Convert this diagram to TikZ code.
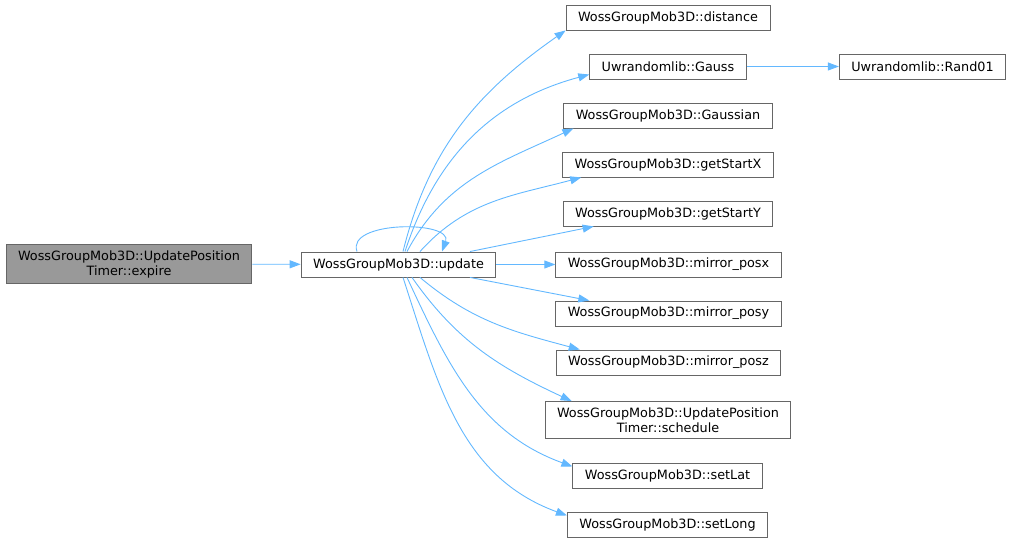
\documentclass[tikz,border=0pt]{standalone}
\usepackage{fontspec}
\setmainfont{DejaVu Sans}
\usepackage{xcolor}
\usetikzlibrary{arrows.meta, positioning}

\definecolor{edgeblue}{HTML}{63B8FF}
\definecolor{boxgray}{HTML}{666666}
\definecolor{rootgray}{HTML}{999999}

\begin{document}
\begin{tikzpicture}[
		x=1pt, y=1pt,
		% Define styles
		fn/.style={
			rectangle,
			draw=boxgray,
			line width=0.9pt,
			fill=white,
			font=\fontsize{12.8}{15}\selectfont,
			align=center,
			inner xsep=12pt,
			inner ysep=6pt,
			minimum height=25pt
		},
		root/.style={fn, fill=rootgray},
		% Define arrow style
		call/.style={-{Triangle[length=11pt,width=8pt]}, draw=edgeblue, line width=0.9pt}
		]
		\useasboundingbox (0,0) rectangle (1012,545);
		
		% ----- Caller -----
		\node[root] (expire) at (129,281) {WossGroupMob3D::UpdatePosition\\Timer::expire};
		
		% ----- Function -----
		\node[fn] (update) at (398.5,280.5) {WossGroupMob3D::update};
		
		% ----- Callees -----
		\node[fn] (distance) at (668,527.5) {WossGroupMob3D::distance};
		\node[fn] (gauss) at (668,478.5) {Uwrandomlib::Gauss};
		\node[fn] (rand) at (922.5,478.5) {Uwrandomlib::Rand01};
		\node[fn] (gaussian) at (668,429.5) {WossGroupMob3D::Gaussian};
		\node[fn] (startx) at (668,380.5) {WossGroupMob3D::getStartX};
		\node[fn] (starty) at (668,331.5) {WossGroupMob3D::getStartY};
		\node[fn] (posx) at (668.5,280.5) {WossGroupMob3D::mirror\_posx};
		\node[fn] (posy) at (668.5,231.5) {WossGroupMob3D::mirror\_posy};
		\node[fn] (posz) at (668.5,182.5) {WossGroupMob3D::mirror\_posz};
		\node[fn] (schedule) at (668,125) {WossGroupMob3D::UpdatePosition\\Timer::schedule};
		\node[fn] (setlat) at (667.5,69.5) {WossGroupMob3D::setLat};
		\node[fn] (setlong) at (667.5,20.5) {WossGroupMob3D::setLong};
		
		% ----- Calls -----
		\draw[call] (expire) -- (update);
		\draw[call] ([xshift=-41.5pt]update.north) to[out=110, in=70] ([xshift=43.5pt]update.north);
		
		\draw[call] ([xshift=4.5pt]update.north) to[out=76, in=215] (distance.south west);
		\draw[call] ([xshift=6.5pt]update.north) to[out=72, in=195] ([yshift=-8pt]gauss.west);
		\draw[call] ([xshift=8.5pt]update.north) to[out=62, in=205] ([xshift=10pt]gaussian.south west);
		\draw[call] ([xshift=21.5pt]update.north) to[out=48, in=195] ([xshift=19pt]startx.south west);
		\draw[call] ([xshift=71.5pt]update.north) -- ([xshift=31pt]starty.south west);
		\draw[call] (gauss) -- (rand);
		
		\draw[call] (update) -- (posx);
		\draw[call] ([xshift=71.5pt]update.south) -- ([xshift=34pt]posy.north west);
		\draw[call] ([xshift=21.5pt]update.south) to[out=-40, in=165] ([xshift=24pt]posz.north west);
		\draw[call] ([xshift=13.5pt]update.south) to[out=-55, in=155] ([xshift=27pt]schedule.north west);
		\draw[call] ([xshift=8.5pt]update.south) to[out=-65, in=160] ([yshift=9pt]setlat.west);
		\draw[call] ([xshift=4.5pt]update.south) to[out=-72, in=160] ([yshift=9pt]setlong.west);
		
	\end{tikzpicture}
\end{document}
